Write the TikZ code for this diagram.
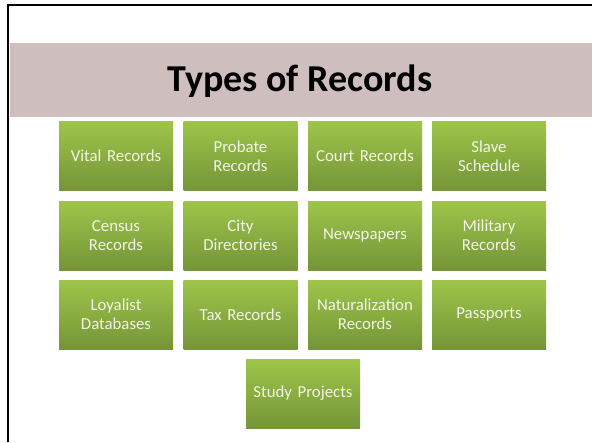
\documentclass[tikz,border=0pt]{standalone}
\usepackage{fontspec}
\setmainfont{Carlito}
\definecolor{banner}{RGB}{207,190,190}
\definecolor{greentop}{RGB}{158,197,74}
\definecolor{greenbot}{RGB}{117,149,56}
\definecolor{boxtext}{RGB}{242,245,232}
\begin{document}
\begin{tikzpicture}[x=1pt,y=-1pt,
  rec/.style={top color=greentop,bottom color=greenbot,minimum width=114pt,minimum height=69pt,
    inner sep=0pt,text width=112pt,align=center,text=boxtext,font=\fontsize{16.8}{19}\selectfont}]
\useasboundingbox (0,0) rectangle (592,442);
\fill[white] (0,0) rectangle (592,442);
\fill[banner] (9.5,43) rectangle (592,117);
\draw[line width=2.5pt] (8,442) -- (8,5) -- (592,5);
\node[font=\fontsize{38}{44}\selectfont\bfseries](title) at (300,81){Types of Records};

 \node[rec](1) at (116,156){Vital Records};
 \node[rec](2) at (240.5,156){Probate\\Records};
 \node[rec](3) at (365,156){Court Records};
 \node[rec](4) at (489,156){Slave\\Schedule};

 \node[rec](5) at (116,235.5){Census\\Records};
 \node[rec](6) at (240.5,235.5){City\\Directories};
 \node[rec](7) at (365,235.5){Newspapers};
 \node[rec](8) at (489,235.5){Military\\Records};

 \node[rec](9) at (116,314.5){Loyalist\\Databases};
 \node[rec](10) at (240.5,314.5){Tax Records};
 \node[rec](11) at (365,314.5){Naturalization\\Records};
 \node[rec](12) at (489,314.5){Passports};

 \node[rec](13) at (303,393.5){Study Projects};
\end{tikzpicture}
\end{document}
